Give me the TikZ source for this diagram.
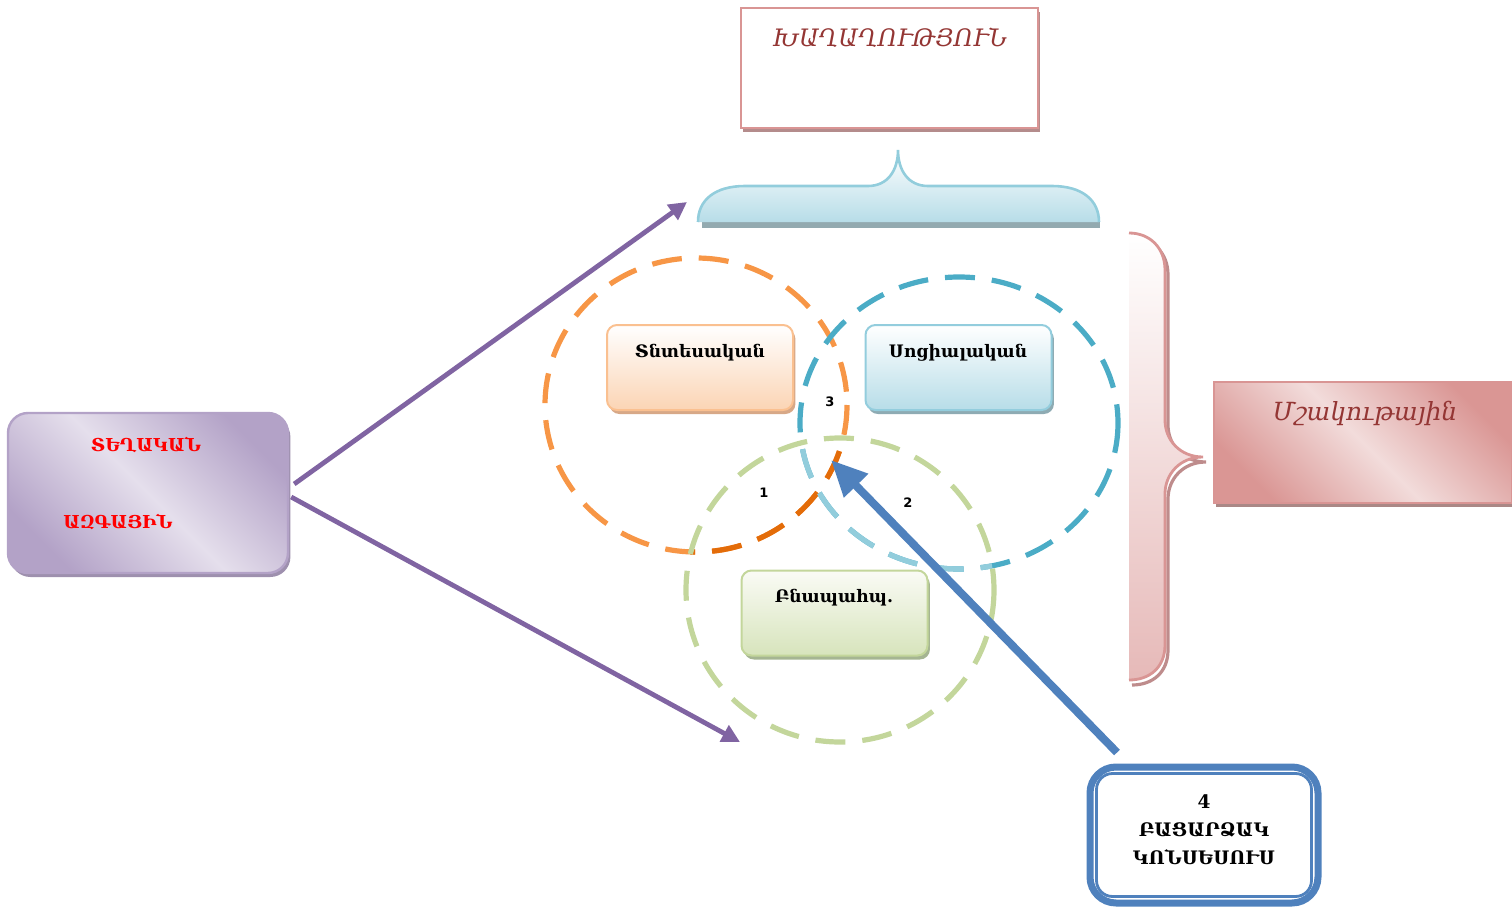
\documentclass[tikz,border=0pt]{standalone}
\usepackage{fontspec}
\setmainfont{DejaVu Serif}
\newfontfamily\numfont{DejaVu Sans}
\usetikzlibrary{arrows.meta,shadows}
\definecolor{orangeC}{HTML}{F79646}
\definecolor{orangeD}{HTML}{E36C09}
\definecolor{blueC}{HTML}{4BACC6}
\definecolor{blueL}{HTML}{92CDDC}
\definecolor{greenC}{HTML}{C3D69B}
\definecolor{purpleA}{HTML}{8064A2}
\definecolor{arrowB}{HTML}{4F81BD}
\definecolor{darkred}{HTML}{943634}
\definecolor{pinkB}{HTML}{D99594}
\definecolor{pinkF}{HTML}{E6B9B8}
\definecolor{pinkD}{HTML}{DA9694}
\definecolor{pinkL}{HTML}{F2DCDB}
\definecolor{peachF}{HTML}{FBD4B4}
\definecolor{peachB}{HTML}{FAC090}
\definecolor{skyF}{HTML}{B7DDE8}
\definecolor{skyB}{HTML}{93CDDD}
\definecolor{leafF}{HTML}{D7E4BC}
\definecolor{leafT}{HTML}{FAFBF5}
\definecolor{purpD}{HTML}{B3A2C7}
\definecolor{purpL}{HTML}{E5DFEC}
\definecolor{braceSh}{HTML}{93AAB0}
\definecolor{rbraceSh}{HTML}{BE8C8C}
\definecolor{shPeace}{HTML}{B48C8C}
\definecolor{shCult}{HTML}{AA8886}
\definecolor{shLoc}{HTML}{9E90AE}
\definecolor{shEcon}{HTML}{D7A887}
\definecolor{shSoc}{HTML}{8EABB3}
\definecolor{shEnv}{HTML}{A5B592}
\tikzset{
  circ/.style={line width=2.6pt, dash pattern=on 15pt off 8.5pt},
  sbox/.style={rounded corners=5pt, line width=1pt, minimum width=93pt, minimum height=42.5pt},
  shad/.style={general shadow={fill=#1, shadow xshift=1.2pt, shadow yshift=-2pt}},
  lbl/.style={font=\bfseries\fontsize{8.6}{10}\selectfont, text=black},
  redlbl/.style={font=\bfseries\fontsize{8.9}{11}\selectfont, text=red},
  num/.style={font=\numfont\bfseries\fontsize{6.5}{7}\selectfont},
  parrow/.style={draw=purpleA, line width=2.4pt, -{Triangle[length=9pt,width=9pt]}},
}
\begin{document}
\begin{tikzpicture}[x=0.5pt,y=-0.5pt]
\useasboundingbox (0,0) rectangle (1512,910);
% circles
\draw[circ, orangeC] (696,405) ellipse [x radius=151, y radius=147];
\draw[circ, blueC] (959,423) ellipse [x radius=159, y radius=146];
\begin{scope}
  \clip (840,590) ellipse [x radius=154, y radius=152];
  \draw[circ, orangeD] (696,405) ellipse [x radius=151, y radius=147];
  \draw[circ, blueL] (959,423) ellipse [x radius=159, y radius=146];
\end{scope}
\draw[circ, greenC] (840,590) ellipse [x radius=154, y radius=152];
% top brace
\fill[braceSh] (702,222) rectangle (1100,228);
\shade[top color=white, bottom color=skyF]
  (698,222) .. controls (698,200) and (715,186) .. (745,186) -- (868,186)
  .. controls (888,186) and (898,170) .. (898,150)
  .. controls (898,170) and (908,186) .. (928,186) -- (1052,186)
  .. controls (1082,186) and (1099,200) .. (1099,222) -- cycle;
\draw[blueL, line width=1.3pt]
  (698,222) .. controls (698,200) and (715,186) .. (745,186) -- (868,186)
  .. controls (888,186) and (898,170) .. (898,150)
  .. controls (898,170) and (908,186) .. (928,186) -- (1052,186)
  .. controls (1082,186) and (1099,200) .. (1099,222);
% right brace
\draw[rbraceSh, line width=1.6pt]
  (1132,238) .. controls (1153,238) and (1168,253) .. (1168,275) -- (1168,425)
  .. controls (1168,445) and (1183,462) .. (1206,462)
  .. controls (1183,462) and (1168,479) .. (1168,499) -- (1168,650)
  .. controls (1168,672) and (1153,685) .. (1132,685);
\shade[top color=white, bottom color=pinkF]
  (1129,233) .. controls (1150,233) and (1165,248) .. (1165,270) -- (1165,420)
  .. controls (1165,440) and (1180,457) .. (1203,457)
  .. controls (1180,457) and (1165,474) .. (1165,494) -- (1165,645)
  .. controls (1165,667) and (1150,680) .. (1129,680) -- cycle;
\draw[pinkB, line width=1.4pt]
  (1129,233) .. controls (1150,233) and (1165,248) .. (1165,270) -- (1165,420)
  .. controls (1165,440) and (1180,457) .. (1203,457)
  .. controls (1180,457) and (1165,474) .. (1165,494) -- (1165,645)
  .. controls (1165,667) and (1150,680) .. (1129,680);
% top box
\node[draw=pinkB, fill=white, line width=1.3pt, minimum width=148.5pt, minimum height=60pt,
      shad=shPeace] (peace) at (889.5,68) {};
\node[font=\itshape\fontsize{12}{14}\selectfont, text=darkred] (peacet) at (890,38) {ԽԱՂԱՂՈՒԹՅՈՒՆ};
% right box
\node[draw=pinkB, line width=1pt, minimum width=149pt, minimum height=60.5pt,
      left color=pinkD, right color=pinkD, middle color=pinkL, shading angle=135,
      shad=shCult] (cult) at (1363,442.5) {};
\node[font=\itshape\fontsize{12.5}{14}\selectfont, text=darkred] (cultt) at (1365,413) {Մշակութային};
% left box
\node[draw=purpD, line width=1.2pt, rounded corners=10pt, minimum width=140pt, minimum height=80pt,
      left color=purpD, right color=purpD, middle color=purpL, shading angle=135,
      shad=shLoc] (loc) at (148,493) {};
\node[redlbl] (loct1) at (146,445) {ՏԵՂԱԿԱՆ};
\node[redlbl] (loct2) at (118,522) {ԱԶԳԱՅԻՆ};
% three boxes
\node[sbox, draw=peachB, top color=white, bottom color=peachF, shad=shEcon] (econ) at (700,367.5) {};
\node[lbl] (econt) at (700,353) {Տնտեսական};
\node[sbox, draw=skyB, top color=white, bottom color=skyF, shad=shSoc] (soc) at (958.5,367.5) {};
\node[lbl] (soct) at (958,353) {Սոցիալական};
\node[sbox, draw=greenC, top color=leafT, bottom color=leafF, shad=shEnv] (env) at (834.5,613) {};
\node[lbl] (envt) at (834,598) {Բնապահպ.};
% numbers
\node[num] (n1) at (764,493) {1};
\node[num] (n2) at (908,503) {2};
\node[num] (n3) at (830,402) {3};
% bottom box
\node[draw=arrowB, line width=3.5pt, rounded corners=13pt, fill=white, minimum width=114pt, minimum height=68pt] (cons) at (1204,835) {};
\draw[arrowB, line width=1.4pt, rounded corners=8pt]
  ([shift={(10,10)}]cons.north west) rectangle ([shift={(-10,-10)}]cons.south east);
\node[align=center, font=\bfseries\fontsize{9.3}{14}\selectfont] (const) at (1204,830)
      {4\\ԲԱՑԱՐՁԱԿ\\ԿՈՆՍԵՍՈՒՍ};
% arrows
\coordinate (upEnd) at (687,202);
\coordinate (downEnd) at (740,742);
\coordinate (coreEnd) at (831,460);
\draw[parrow] ([shift={(5,-9)}]loc.east) -- (upEnd);
\draw[parrow] ([shift={(2,4)}]loc.east) -- (downEnd);
\draw[draw=arrowB, line width=4pt, -{Triangle[length=18pt,width=16pt]}]
  ([shift={(-87,-11)}]cons.north) -- (coreEnd);
\end{tikzpicture}
\end{document}
